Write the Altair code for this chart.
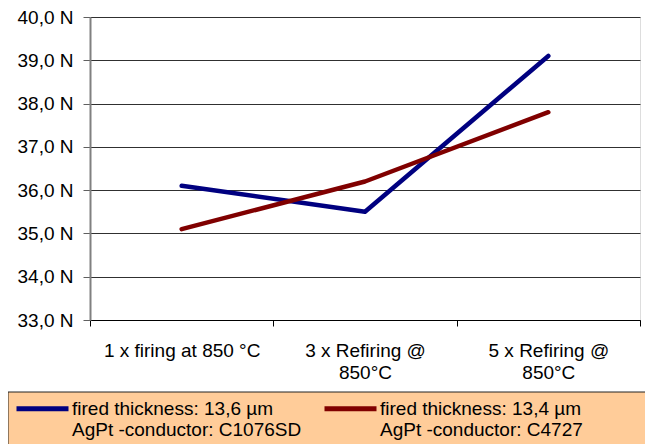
import altair as alt
import pandas as pd

categories = ["1 x firing at 850 °C", "3 x Refiring @|850°C", "5 x Refiring @|850°C"]
series_names = [
    "fired thickness: 13,6 µm|AgPt -conductor: C1076SD",
    "fired thickness: 13,4 µm|AgPt -conductor: C4727",
]
blue_values = [36.1, 35.5, 39.1]
red_values = [35.1, 36.2, 37.8]
y_ticks = [33, 34, 35, 36, 37, 38, 39, 40]
colors = ["#000080", "#800000"]

rows = []
for s, vals in zip(series_names, [blue_values, red_values]):
    for c, v in zip(categories, vals):
        rows.append({"cat": c, "series": s, "value": v})
df = pd.DataFrame(rows)

FONT = "Liberation Sans"

bg = alt.Chart(pd.DataFrame({"a": [0]})).mark_rect(
    fill="#FFCC99", stroke="#222222", strokeWidth=1
).encode(
    x=alt.value(-82), x2=alt.value(640),
    y=alt.value(375), y2=alt.value(470),
)

lines = alt.Chart(df).mark_line(strokeWidth=4.5, strokeCap="round", strokeJoin="round").encode(
    x=alt.X("cat:N", sort=categories, bandPosition=0.5,
            scale=alt.Scale(type="band", paddingInner=0, paddingOuter=0),
            axis=alt.Axis(title=None, labelAngle=0, tickBand="extent", grid=False,
                          domainColor="#000000", domainWidth=1, tickColor="#000000",
                          tickSize=6, labelPadding=15, labelFontSize=19, labelFont=FONT,
                          labelColor="#000000", labelLimit=300, labelLineHeight=22,
                          labelExpr="split(datum.label, '|')")),
    y=alt.Y("value:Q", scale=alt.Scale(domain=[33, 40], nice=False, zero=False),
            axis=alt.Axis(title=None, values=y_ticks, grid=True, gridColor="#303030",
                          gridWidth=1, domainColor="#808080", domainWidth=2,
                          tickColor="#606060", tickSize=7, labelPadding=10,
                          labelFontSize=19, labelFont=FONT, labelColor="#000000",
                          labelExpr="replace(format(datum.value, '.1f'), '.', ',') + ' N'")),
    color=alt.Color("series:N", sort=series_names,
                    scale=alt.Scale(domain=series_names, range=colors),
                    legend=alt.Legend(title=None, orient="none", legendX=-76, legendY=363,
                                      direction="horizontal", columns=2, columnPadding=12,
                                      symbolType="stroke", symbolSize=2704, symbolStrokeWidth=5,
                                      labelFont=FONT, labelFontSize=19, labelColor="#000000",
                                      labelLimit=400, labelOffset=1, labelBaseline="middle",
                                      padding=0,
                                      labelExpr="split(datum.label, '|')")),
)

chart = alt.layer(bg, lines).properties(
    width=550, height=303,
    autosize=alt.AutoSizeParams(type="none"),
    padding={"left": 82, "top": 9, "right": 5, "bottom": 124},
).configure_view(stroke=None).configure(background="white")

chart.save("out.html", embed_options={"renderer": "svg", "actions": False})
